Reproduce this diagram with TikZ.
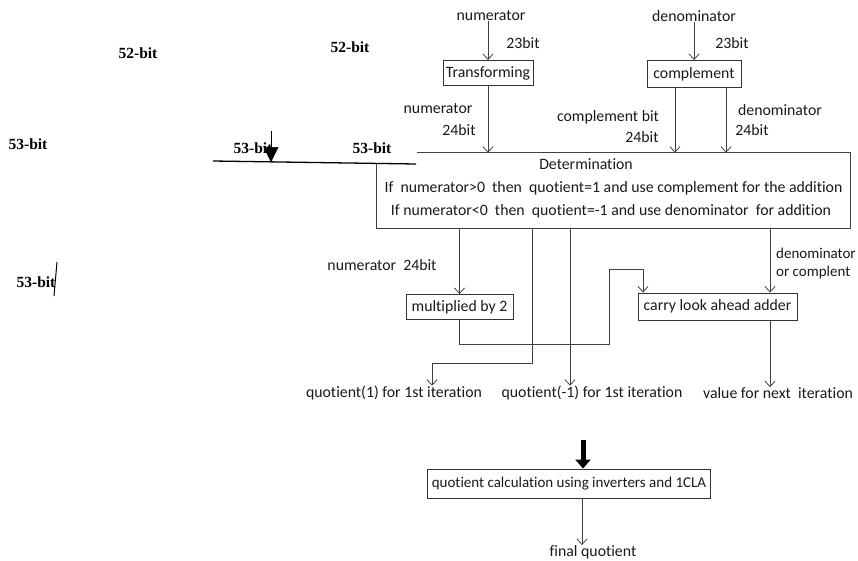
\documentclass[tikz,border=0pt]{standalone}
\usepackage{fontspec}
\setmainfont{Carlito}[Ligatures={NoCommon}]
\newfontfamily\bitfont{Liberation Serif}
\usetikzlibrary{arrows.meta}

\tikzset{
    ink/.style={draw=black!75, line width=0.8pt},
    blk/.style={draw=black!80, line width=0.9pt, rectangle, inner sep=0pt, text=black!90, font=\fontsize{15.8}{17}\selectfont},
    lbl/.style={inner sep=0pt, text=black!90, font=\fontsize{15.8}{17}\selectfont},
    bitlbl/.style={inner sep=0pt, font=\bitfont\bfseries\fontsize{15.5}{17}\selectfont},
    >={Straight Barb[length=5.5pt,width=10pt]},
}

\begin{document}
\begin{tikzpicture}[x=1pt,y=-1pt]
        \useasboundingbox (0,0) rectangle (858,560);

        % loose bit labels on the left
        \node[bitlbl] (b52a) at (138, 53) {52-bit};
        \node[bitlbl] (b52b) at (350, 47) {52-bit};
        \node[bitlbl] (b53a) at (28, 144) {53-bit};
        \node[bitlbl] (b53b) at (253, 148) {53-bit};
        \node[bitlbl] (b53c) at (372, 148) {53-bit};
        \node[bitlbl] (b53d) at (36, 282) {53-bit};
        \coordinate (s1) at (213, 161);
        \coordinate (s2) at (416, 164);
        \coordinate (p1) at (271, 131);
        \coordinate (p2) at (271, 162);
        \coordinate (t1) at (57, 262);
        \coordinate (t2) at (54, 296);
        \draw[black, line width=1.3pt] (s1) -- (s2);
        \draw[black, line width=0.6pt, -{Triangle[width=15pt,length=15pt]}] (p1) -- (p2);
        \draw[black, line width=1pt] (t1) -- (t2);

        % inputs
        \node[lbl] (num) at (491, 16) {numerator};
        \node[lbl] (num23) at (523, 43) {23bit};
        \node[lbl] (den) at (694, 16) {denominator};
        \node[lbl] (den23) at (732, 43) {23bit};
        \node[blk, minimum width=90pt, minimum height=25pt] (trans) at (488, 73) {Transforming};
        \node[blk, minimum width=94pt, minimum height=27pt] (compl) at (694, 74) {complement};
        \node[lbl] (num24a) at (438, 109) {numerator};
        \node[lbl] (num24b) at (459, 130) {24bit};
        \node[lbl] (cbit) at (608, 117) {complement bit};
        \node[lbl] (cbit24) at (642, 137) {24bit};
        \node[lbl] (den24a) at (780, 110) {denominator};
        \node[lbl] (den24b) at (752, 130) {24bit};

        % determination block
        \node[minimum width=473pt, minimum height=75pt, inner sep=0pt] (det) at (613.5, 190.5) {};
        \draw[ink] (det.north west) ++(40,0) -- (det.north east) -- (det.south east) -- (det.south west) -- ++(0,-64);
        \node[lbl] (dett) at (586, 164) {Determination};
        \node[lbl] (detl1) at (613.5, 188) {If\ \ numerator>0\ \ then\ \ quotient=1 and use complement for the addition};
        \node[lbl] (detl2) at (611, 211) {If numerator<0\ \ then\ \ quotient=-1 and use denominator\ \ for addition};

        \draw[ink,->] (trans.north |- num.south) -- (trans.north);
        \draw[ink,->] (compl.north |- den.south) -- (compl.north);
        \coordinate (cb) at (675, 0);
        \coordinate (cd) at (726, 0);
        \draw[ink,->] (trans.south) -- (trans.south |- det.north);
        \draw[ink,->] (cb |- compl.south) -- (cb |- det.north);
        \draw[ink,->] (cd |- compl.south) -- (cd |- det.north);

        % adder stage
        \node[lbl] (num24c) at (382, 265) {numerator\ \ 24bit};
        \node[lbl, anchor=west, font=\fontsize{15}{17}\selectfont] (dorc1) at (776, 253) {denominator};
        \node[lbl, anchor=west, font=\fontsize{15}{17}\selectfont] (dorc2) at (776, 272) {or complent};
        \node[blk, minimum width=107pt, minimum height=25pt] (mult) at (459.5, 307) {multiplied by 2};
        \node[blk, minimum width=159pt, minimum height=27pt] (cla) at (717.5, 306.5) {carry look ahead adder};
        \node[lbl] (q1) at (394, 393) {quotient(1) for 1st iteration};
        \node[lbl] (q2) at (592, 393) {quotient(-1) for 1st iteration};
        \node[lbl] (val) at (778, 393) {value for next\ \ iteration};

        \coordinate (c2) at (532, 363);
        \coordinate (c3) at (432, 363);
        \coordinate (c4) at (570, 0);
        \coordinate (c5) at (770, 0);
        \coordinate (r1) at (609, 344);
        \coordinate (r2) at (643, 269);
        \draw[ink,->] (mult.north |- det.south) -- (mult.north);
        \draw[ink,->] (c2 |- det.south) -- (c2) -- (c3) -- (c3 |- q1.north);
        \draw[ink,->] (c4 |- det.south) -- (c4 |- q2.north);
        \draw[ink,->] (c5 |- det.south) -- (c5 |- cla.north);
        \draw[ink,->] (mult.south) -- (mult.south |- r1) -- (r1) -- (r1 |- r2) -- (r2) -- (r2 |- cla.north);
        \draw[ink,->] (c5 |- cla.south) -- (c5 |- val.north);

        % final stage
        \coordinate (tk) at (583, 440);
        \coordinate (fq) at (582, 0);
        \node[blk, inner xsep=4pt, minimum width=283pt, minimum height=29pt, font=\fontsize{15}{17}\selectfont] (qcalc) at (569, 483.5) {quotient calculation using inverters and 1CLA};
        \node[lbl] (fin) at (593, 552) {final quotient};
        \draw[black, line width=5pt, -{Triangle[width=15pt,length=9pt]}] (tk) -- (tk |- qcalc.north);
        \draw[ink,->] (fq |- qcalc.south) -- (fq |- fin.north);

    \end{tikzpicture}
\end{document}
